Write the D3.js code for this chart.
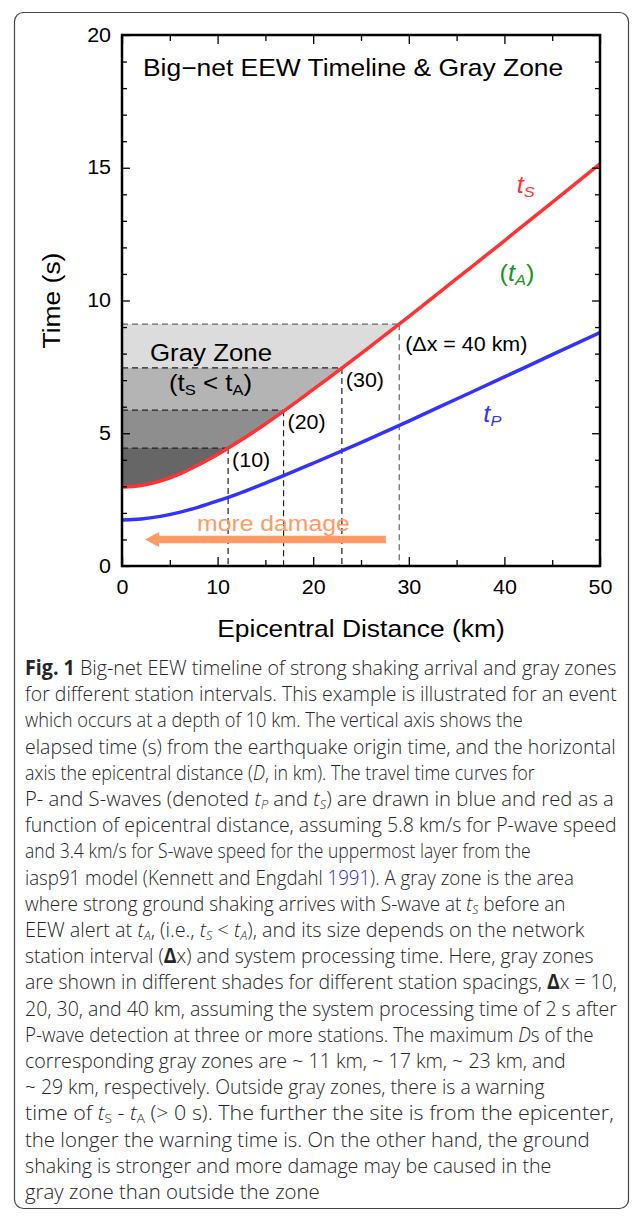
<!DOCTYPE html>
<html>
<head>
<meta charset="utf-8">
<script src="https://cdn.jsdelivr.net/npm/d3@7"></script>
<style>
body { margin: 0; background: #fff; }
svg { display: block; }
.chart text { font-family: "Liberation Sans", Arial, Helvetica, sans-serif; fill: #000; }
.caption text { font-family: "Open Sans", sans-serif; fill: #262626; font-weight: 300; }
</style>
</head>
<body>
<script>
// travel times (event depth 10 km)
var distKm = [0, 2, 4, 6, 8, 10, 12, 15, 20, 25, 30, 35, 40, 45, 50];
var tS = [2.97, 3.03, 3.20, 3.46, 3.81, 4.20, 4.64, 5.35, 6.65, 8.00, 9.39, 10.82, 12.25, 13.70, 15.15];
var tP = [1.73, 1.77, 1.87, 2.02, 2.22, 2.45, 2.70, 3.12, 3.87, 4.65, 5.46, 6.29, 7.12, 7.96, 8.79];

// gray zones per station interval
var zoneSpacing = [10, 20, 30, 40];
var zoneMaxD = [11.1, 16.9, 23.0, 29.0];
var zoneTime = [4.44, 5.87, 7.46, 9.11];
var zoneLabel = ["(10)", "(20)", "(30)", "(\u0394x = 40 km)"];

var xTicks = [0, 10, 20, 30, 40, 50];
var xMinor = [5, 15, 25, 35, 45];
var yTicks = [0, 5, 10, 15, 20];
var yMinor = [1, 2, 3, 4, 6, 7, 8, 9, 11, 12, 13, 14, 16, 17, 18, 19];

var captionLines = [
  [["Fig. 1", "b"], [" Big-net EEW timeline of strong shaking arrival and gray zones"]],
  [["for different station intervals. This example is illustrated for an event"]],
  [["which occurs at a depth of 10 km. The vertical axis shows the"]],
  [["elapsed time (s) from the earthquake origin time, and the horizontal"]],
  [["axis the epicentral distance ("], ["D", "i"], [", in km). The travel time curves for"]],
  [["P- and S-waves (denoted "], ["t", "i"], ["P", "is"], [" and "], ["t", "i"], ["S", "is"], [") are drawn in blue and red as a"]],
  [["function of epicentral distance, assuming 5.8 km/s for P-wave speed"]],
  [["and 3.4 km/s for S-wave speed for the uppermost layer from the"]],
  [["iasp91 model (Kennett and Engdahl "], ["1991", "l"], ["). A gray zone is the area"]],
  [["where strong ground shaking arrives with S-wave at "], ["t", "i"], ["S", "is"], [" before an"]],
  [["EEW alert at "], ["t", "i"], ["A", "is"], [", (i.e., "], ["t", "i"], ["S", "is"], [" < "], ["t", "i"], ["A", "is"], ["), and its size depends on the network"]],
  [["station interval ("], ["\u0394", "b"], ["x) and system processing time. Here, gray zones"]],
  [["are shown in different shades for different station spacings, "], ["\u0394", "b"], ["x = 10,"]],
  [["20, 30, and 40 km, assuming the system processing time of 2 s after"]],
  [["P-wave detection at three or more stations. The maximum "], ["D", "i"], ["s of the"]],
  [["corresponding gray zones are ~ 11 km, ~ 17 km, ~ 23 km, and"]],
  [["~ 29 km, respectively. Outside gray zones, there is a warning"]],
  [["time of "], ["t", "i"], ["S", "s"], [" - "], ["t", "i"], ["A", "s"], [" (> 0 s). The further the site is from the epicenter,"]],
  [["the longer the warning time is. On the other hand, the ground"]],
  [["shaking is stronger and more damage may be caused in the"]],
  [["gray zone than outside the zone"]]
];
// right edge of each caption line in the reference
var captionRight = [617, 617, 523, 616, 535, 614, 617, 531, 574, 566, 585, 594, 617, 617, 594, 566, 545, 614, 590, 552, 320];

var zoneFill = ["#666666", "#8e8e8e", "#b4b4b4", "#dcdcdc"];
var SX = 1.1; // the figure's Helvetica is a little wider than Liberation Sans

var svg = d3.select("body").append("svg")
    .attr("width", 636)
    .attr("height", 1219);

svg.append("rect")
    .attr("x", 14.5).attr("y", 12.5)
    .attr("width", 614).attr("height", 1196)
    .attr("rx", 9)
    .attr("fill", "none")
    .attr("stroke", "#444")
    .attr("stroke-width", 1.2);

var chart = svg.append("g").attr("class", "chart");

var x = d3.scaleLinear().domain([0, 50]).range([122, 600]);
var y = d3.scaleLinear().domain([0, 20]).range([566, 35]);

function stretch(sel) {
    sel.each(function () {
        var t = d3.select(this);
        var tx = +t.attr("x") || 0, ty = +t.attr("y") || 0;
        var rot = t.attr("data-rot") ? " rotate(" + t.attr("data-rot") + ")" : "";
        t.attr("transform", "translate(" + tx + "," + ty + ")" + rot + " scale(" + SX + ",1) translate(" + (-tx) + "," + (-ty) + ")");
    });
}

var sPts = d3.zip(distKm, tS);
var pPts = d3.zip(distKm, tP);
var curve = d3.curveMonotoneX;

var defs = svg.append("defs");
defs.append("clipPath").attr("id", "aboveS")
  .append("path")
    .attr("d", d3.area()
        .x(function (d) { return x(d[0]); })
        .y0(function (d) { return y(d[1]); })
        .y1(y(20))
        .curve(curve)(sPts));
defs.append("clipPath").attr("id", "plot")
  .append("rect")
    .attr("x", x(0)).attr("y", y(20))
    .attr("width", x(50) - x(0)).attr("height", y(0) - y(20));

// gray zones, lightest (widest) first
var zones = d3.range(zoneSpacing.length).reverse();
chart.append("g").attr("clip-path", "url(#aboveS)")
  .selectAll("rect").data(zones).enter().append("rect")
    .attr("x", x(0))
    .attr("y", function (i) { return y(zoneTime[i]); })
    .attr("width", function (i) { return x(zoneMaxD[i]) - x(0); })
    .attr("height", function (i) { return y(0) - y(zoneTime[i]); })
    .attr("fill", function (i) { return zoneFill[i]; });

var dash = chart.append("g")
    .attr("fill", "none")
    .attr("stroke-width", 1.2)
    .attr("stroke-dasharray", "6,4");
zones.forEach(function (i) {
    var col = zoneSpacing[i] === 40 ? "#666" : "#222";
    dash.append("line")
        .attr("x1", x(0)).attr("x2", x(zoneMaxD[i]))
        .attr("y1", y(zoneTime[i])).attr("y2", y(zoneTime[i]))
        .attr("stroke", col);
    dash.append("line")
        .attr("x1", x(zoneMaxD[i])).attr("x2", x(zoneMaxD[i]))
        .attr("y1", y(zoneTime[i])).attr("y2", y(0))
        .attr("stroke", col);
});

// travel time curves
var line = d3.line()
    .x(function (d) { return x(d[0]); })
    .y(function (d) { return y(d[1]); })
    .curve(curve);
var curves = chart.append("g").attr("clip-path", "url(#plot)").attr("fill", "none").attr("stroke-width", 3.5);
curves.append("path").attr("d", line(pPts)).attr("stroke", "#3333ff");
curves.append("path").attr("d", line(sPts)).attr("stroke", "#ff3333");

// "more damage" arrow
var arrowFrom = 27.6, arrowTo = 2.4, arrowAt = 1.0;
chart.append("line")
    .attr("x1", x(arrowFrom)).attr("x2", x(arrowTo) + 12)
    .attr("y1", y(arrowAt)).attr("y2", y(arrowAt))
    .attr("stroke", "#ff9a66").attr("stroke-width", 7.5);
chart.append("path")
    .attr("d", "M" + x(arrowTo) + "," + y(arrowAt) + "l14,-7.5v15z")
    .attr("fill", "#ff9a66");

// axes: ticks point inward on all four sides
function ticks(axis, tx, ty) {
    var g = chart.append("g").attr("transform", "translate(" + tx + "," + ty + ")").call(axis);
    g.select(".domain").remove();
    g.selectAll(".tick line").attr("stroke", "#000").attr("stroke-width", 1.3);
    g.selectAll("text").style("font-size", "19.5px").attr("fill", "#000");
    return g;
}
var gx = ticks(d3.axisBottom(x).tickValues(xTicks).tickSizeInner(-9).tickSizeOuter(0).tickPadding(14), 0, y(0));
ticks(d3.axisBottom(x).tickValues(xMinor).tickSizeInner(-6).tickSizeOuter(0).tickFormat(""), 0, y(0));
ticks(d3.axisTop(x).tickValues(xTicks).tickSizeInner(-9).tickSizeOuter(0).tickFormat(""), 0, y(20));
ticks(d3.axisTop(x).tickValues(xMinor).tickSizeInner(-6).tickSizeOuter(0).tickFormat(""), 0, y(20));
var gy = ticks(d3.axisLeft(y).tickValues(yTicks).tickSizeInner(-8).tickSizeOuter(0).tickPadding(11), x(0), 0);
ticks(d3.axisLeft(y).tickValues(yMinor).tickSizeInner(-5).tickSizeOuter(0).tickFormat(""), x(0), 0);
ticks(d3.axisRight(y).tickValues(yTicks).tickSizeInner(-8).tickSizeOuter(0).tickFormat(""), x(50), 0);
ticks(d3.axisRight(y).tickValues(yMinor).tickSizeInner(-5).tickSizeOuter(0).tickFormat(""), x(50), 0);
gx.selectAll("text").call(stretch);
gy.selectAll("text").call(stretch);

chart.append("rect")
    .attr("x", x(0)).attr("y", y(20))
    .attr("width", x(50) - x(0)).attr("height", y(0) - y(20))
    .attr("fill", "none").attr("stroke", "#000").attr("stroke-width", 2.5);

// labels
var labels = chart.append("g");
labels.append("text")
    .attr("x", 143).attr("y", 76)
    .style("font-size", "24px")
    .text("Big\u2212net EEW Timeline & Gray Zone");
labels.append("text")
    .attr("x", (x(0) + x(50)) / 2).attr("y", 637)
    .attr("text-anchor", "middle")
    .style("font-size", "24px")
    .text("Epicentral Distance (km)");
labels.append("text")
    .attr("x", 60).attr("y", (y(0) + y(20)) / 2)
    .attr("data-rot", -90)
    .attr("text-anchor", "middle")
    .style("font-size", "24px")
    .text("Time (s)");
labels.append("text")
    .attr("x", 150).attr("y", 361)
    .style("font-size", "23.5px")
    .text("Gray Zone");
var lt = labels.append("text").attr("x", 169).attr("y", 391).style("font-size", "23.5px");
lt.append("tspan").text("(t");
lt.append("tspan").attr("dy", 4).style("font-size", "15px").text("S");
lt.append("tspan").attr("dy", -4).text(" < t");
lt.append("tspan").attr("dy", 4).style("font-size", "15px").text("A");
lt.append("tspan").attr("dy", -4).text(")");
labels.append("text")
    .attr("x", x(7.85)).attr("y", y(1.32))
    .style("font-size", "22.5px").style("fill", "#ff9a66")
    .text("more damage");

zoneSpacing.forEach(function (d, i) {
    labels.append("text")
        .attr("x", x(zoneMaxD[i]) + (d === 40 ? 6 : 4))
        .attr("y", y(zoneTime[i]) + (d === 40 ? 27 : 19))
        .style("font-size", "19.5px")
        .text(zoneLabel[i]);
});

function waveLabel(xkm, tsec, col, sub, paren) {
    var t = labels.append("text").attr("x", x(xkm)).attr("y", y(tsec))
        .style("font-size", "23px").style("fill", col);
    if (paren) t.append("tspan").text("(");
    t.append("tspan").style("font-style", "italic").text("t");
    t.append("tspan").attr("dy", 4).style("font-style", "italic").style("font-size", "15px").text(sub);
    if (paren) t.append("tspan").attr("dy", -4).text(")");
}
waveLabel(41.3, 14.05, "#ff3333", "S", false);
waveLabel(39.5, 10.73, "#1a961a", "A", true);
waveLabel(37.8, 5.42, "#3333ff", "P", false);
labels.selectAll("text").call(stretch);

// caption, each line fitted to the width it has in the reference
var cap = svg.append("g").attr("class", "caption");
captionLines.forEach(function (segs, i) {
    var t = cap.append("text")
        .attr("x", 25).attr("y", 675 + i * 26.2)
        .style("font-size", "20.5px");
    var low = false;
    segs.forEach(function (s) {
        var f = s[1] || "";
        var ts = t.append("tspan").text(s[0]);
        if (f.indexOf("b") >= 0) ts.style("font-weight", "bold");
        if (f.indexOf("i") >= 0) ts.attr("font-style", "italic");
        if (f.indexOf("l") >= 0) ts.style("fill", "#2b2bd9");
        if (f.indexOf("s") >= 0) {
            ts.style("font-size", "13px");
            if (!low) { ts.attr("dy", 3); low = true; }
        } else if (low) {
            ts.attr("dy", -3); low = false;
        }
    });
    var w = t.node().getComputedTextLength();
    var k = (captionRight[i] - 25) / w;
    t.attr("transform", "translate(25,0) scale(" + k + ",1) translate(-25,0)");
});
</script>
</body>
</html>
